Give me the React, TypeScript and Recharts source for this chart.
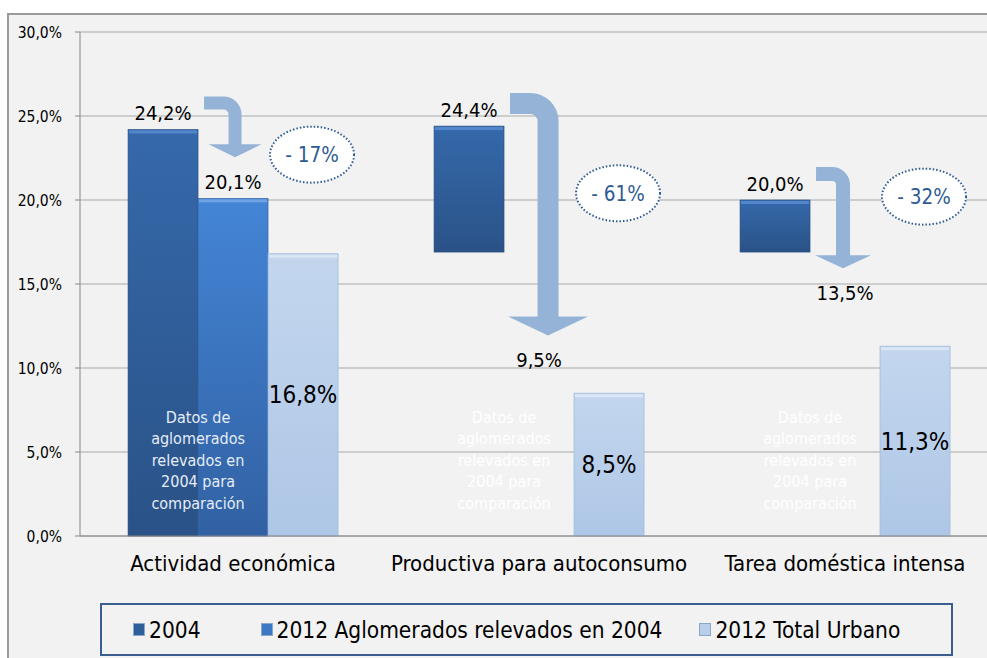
import React from 'react';
import { BarChart, Bar, XAxis, YAxis, CartesianGrid, LabelList } from 'recharts';

// categories and series values (percent)
const categories = ['Actividad económica', 'Productiva para autoconsumo', 'Tarea doméstica intensa'];
const values2004 = [24.2, 24.4, 20.0];
const values2012Aglo = [20.1, 9.5, 13.5];
const values2012Total = [16.8, 8.5, 11.3];
const changeLabels = ['- 17%', '- 61%', '- 32%'];
const seriesNames = ['2004', '2012 Aglomerados relevados en 2004', '2012 Total Urbano'];
const yTicks = [0, 5, 10, 15, 20, 25, 30];
const noteLines = ['Datos de', 'aglomerados', 'relevados en', '2004 para', 'comparación'];
// the 2004 bar is only drawn full where the 2012 comparison bar is shown
const showComparison = [true, false, false];
const hiddenBelow = 16.9;

const data = categories.map((name, i) => ({
  name,
  y2004: values2004[i],
  aglo: values2012Aglo[i],
  total: values2012Total[i],
}));

const FONT = '"DejaVu Sans", Verdana, sans-serif';
const fmt = (v: any) => Number(v).toFixed(1).replace('.', ',') + '%';

// annotation look per category
const arrows = [
  { w: 13, r: 18, headW: 53, headL: 13, dx: 2 },
  { w: 21, r: 28, headW: 80, headL: 19, dx: 9 },
  { w: 14, r: 18, headW: 56, headL: 13, dx: -2 },
];
const noteLevel = [22.7, 20.4, 20.2];

function arrowPath(sx: number, top: number, cx: number, w: number, R: number, headW: number, headL: number, tip: number) {
  const xl = cx - w / 2;
  const xr = cx + w / 2;
  const headTop = tip - headL;
  const ri = R - w;
  return `M${sx},${top} L${xr - R},${top} A${R},${R} 0 0 1 ${xr},${top + R} L${xr},${headTop} L${cx + headW / 2},${headTop} L${cx},${tip} L${cx - headW / 2},${headTop} L${xl},${headTop} L${xl},${top + R} A${ri},${ri} 0 0 0 ${xr - R},${top + w} L${sx},${top + w} Z`;
}

const Shape2004 = (props: any) => {
  const { x, y, width, height, index } = props;
  const ppu = height / values2004[index];
  const zeroY = y + height;
  const bottom = showComparison[index] ? zeroY : zeroY - hiddenBelow * ppu;
  return (
    <g>
      <rect x={x} y={y} width={width} height={bottom - y} fill="url(#g2004)" stroke="#2b4f7e" strokeWidth={0.6} />
      <rect x={x + 1} y={y + 1} width={width - 2} height={3} fill="#5a8fd6" opacity={0.8} />
    </g>
  );
};

const ShapeAglo = (props: any) => {
  const { x, y, width, height, index } = props;
  const ppu = height / values2012Aglo[index];
  const zeroY = y + height;
  const top2004 = zeroY - values2004[index] * ppu;
  const a = arrows[index];
  const cx = x + width / 2 + a.dx;
  const noteColor = showComparison[index] ? '#e6edf7' : '#ffffff';
  const ex = x + width * 1.5 + 9;
  const ey = zeroY - noteLevel[index] * ppu;
  return (
    <g>
      {showComparison[index] && (
        <g>
          <rect x={x} y={y} width={width} height={height} fill="url(#gAglo)" stroke="#2f5f9e" strokeWidth={0.6} />
          <rect x={x + 1} y={y + 1} width={width - 2} height={3} fill="#7aaae6" opacity={0.8} />
        </g>
      )}
      <path d={arrowPath(x + 6, top2004 - 33, cx, a.w, a.r, a.headW, a.headL, y - 41)} fill="#95b3d7" />
      {noteLines.map((line, i) => (
        <text
          key={i}
          x={x}
          y={zeroY - 119 + i * 21.5}
          dy="0.35em"
          textAnchor="middle"
          fill={noteColor}
          fontSize={16}
          fontFamily={FONT}
        >
          {line}
        </text>
      ))}
      <ellipse cx={ex} cy={ey} rx={42} ry={28} fill="#ffffff" stroke="#2e5b93" strokeWidth={2} strokeDasharray="1.5 2" />
      <text x={ex} y={ey} dy="0.36em" textAnchor="middle" fill="#2e5b93" fontSize={20.5} fontFamily={FONT}>
        {changeLabels[index]}
      </text>
    </g>
  );
};

const ShapeTotal = (props: any) => {
  const { x, y, width, height } = props;
  return (
    <g>
      <rect x={x} y={y} width={width} height={height} fill="url(#gTotal)" stroke="#9fbbdd" strokeWidth={0.8} />
      <rect x={x + 1} y={y + 1} width={width - 2} height={3} fill="#dce8f6" opacity={0.9} />
    </g>
  );
};

const legendFills = ['#2f5f9a', '#3d78c4', '#b9cfe9'];
const legendGaps = [60, 37, 0];

export default function App() {
  return (
    <div
      style={{
        position: 'absolute',
        left: 0,
        top: 0,
        width: 987,
        height: 658,
        overflow: 'hidden',
        background: '#fff',
        fontFamily: FONT,
        fontStretch: 'condensed',
      }}
    >
      <div style={{ position: 'absolute', left: 7, top: 13, width: 1000, height: 660, background: '#f2f2f2', border: '2px solid #9a9a9a', boxSizing: 'border-box' }} />
      <div style={{ position: 'absolute', left: 0, top: 0 }}>
        <BarChart width={1010} height={658} data={data} margin={{ top: 32, right: 12, left: 8, bottom: 82 }} barGap={0} barCategoryGap="15.7%">
          <defs>
            <linearGradient id="g2004" x1="0" y1="0" x2="0" y2="1">
              <stop offset="0%" stopColor="#3569ab" />
              <stop offset="100%" stopColor="#2a5287" />
            </linearGradient>
            <linearGradient id="gAglo" x1="0" y1="0" x2="0" y2="1">
              <stop offset="0%" stopColor="#4485d6" />
              <stop offset="100%" stopColor="#3161a3" />
            </linearGradient>
            <linearGradient id="gTotal" x1="0" y1="0" x2="0" y2="1">
              <stop offset="0%" stopColor="#c3d6ee" />
              <stop offset="100%" stopColor="#aec7e6" />
            </linearGradient>
          </defs>
          <CartesianGrid vertical={false} stroke="#a8a8a8" />
          <XAxis
            dataKey="name"
            tickLine={false}
            tickSize={0}
            tickMargin={19}
            stroke="#868686"
            height={40}
            tick={{ fill: '#000', fontSize: 22, fontFamily: FONT }}
          />
          <YAxis
            domain={[0, 30]}
            ticks={yTicks}
            width={72}
            tickFormatter={fmt}
            stroke="#868686"
            tickSize={5}
            tickMargin={13}
            tick={{ fill: '#000', fontSize: 15.5, fontFamily: FONT }}
          />
          <Bar dataKey="y2004" isAnimationActive={false} shape={(p: any) => <Shape2004 {...p} />}>
            <LabelList dataKey="y2004" position="top" offset={9} formatter={fmt} fill="#000" fontSize={20} fontFamily={FONT} />
          </Bar>
          <Bar dataKey="aglo" isAnimationActive={false} shape={(p: any) => <ShapeAglo {...p} />}>
            <LabelList dataKey="aglo" position="top" offset={9} formatter={fmt} fill="#000" fontSize={20} fontFamily={FONT} />
          </Bar>
          <Bar dataKey="total" isAnimationActive={false} shape={(p: any) => <ShapeTotal {...p} />}>
            <LabelList dataKey="total" position="center" formatter={fmt} fill="#000" fontSize={24} fontFamily={FONT} />
          </Bar>
        </BarChart>
      </div>
      <div
        style={{
          position: 'absolute',
          left: 100,
          top: 603,
          width: 853,
          height: 53,
          border: '2px solid #3a5f8e',
          boxSizing: 'border-box',
          display: 'flex',
          alignItems: 'center',
          justifyContent: 'flex-start',
          paddingLeft: 31,
          fontSize: 22.5,
          color: '#000',
        }}
      >
        {seriesNames.map((s, i) => (
          <div key={s} style={{ display: 'flex', alignItems: 'center', marginRight: legendGaps[i] }}>
            <span style={{ display: 'inline-block', width: 12, height: 13, background: legendFills[i], marginRight: 4, border: '1px solid #8aa6c8', boxSizing: 'border-box' }} />
            <span>{s}</span>
          </div>
        ))}
      </div>
    </div>
  );
}
